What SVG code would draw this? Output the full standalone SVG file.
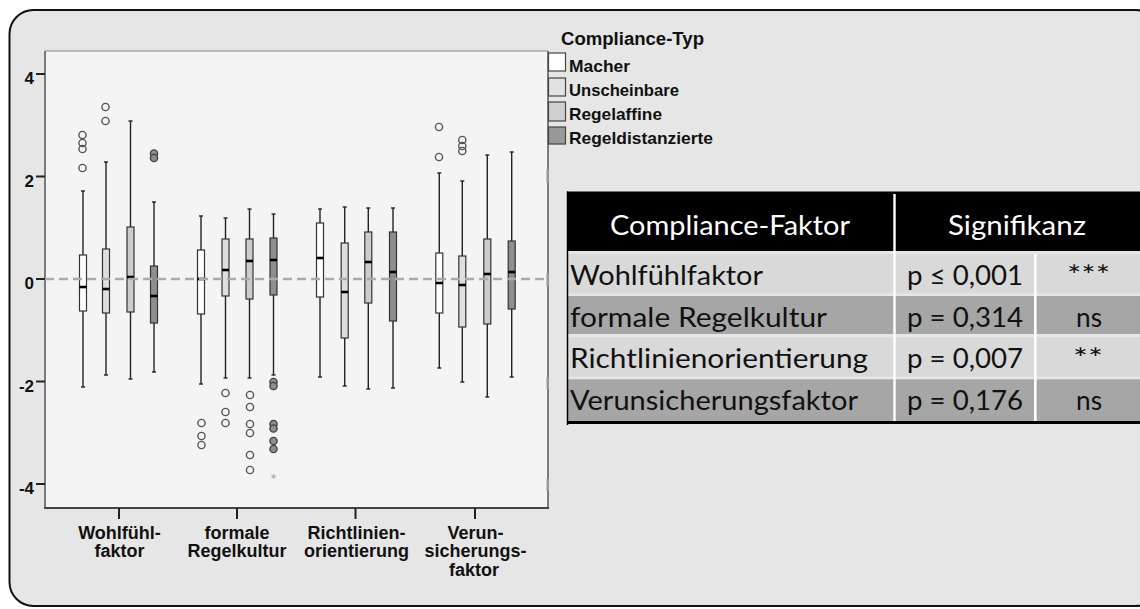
<svg xmlns="http://www.w3.org/2000/svg" width="1140" height="609" viewBox="0 0 1140 609">
  <style>
    .frame { fill: #e6e6e6; stroke: #111; stroke-width: 2; }
    .plotbg { fill: #f4f4f4; }
    .axis { stroke: #555; stroke-width: 1.5; fill: none; }
    .tick { stroke: #222; stroke-width: 2; }
    .ylab { font-family: "Liberation Sans", Arial, sans-serif; font-weight: bold; font-size: 17px; fill: #111; text-anchor: end; }
    .xlab { font-family: "Liberation Sans", Arial, sans-serif; font-weight: bold; font-size: 18px; fill: #111; text-anchor: middle; }
    .legtitle { font-family: "Liberation Sans", Arial, sans-serif; font-weight: bold; font-size: 17.5px; fill: #111; }
    .leglab { font-family: "Liberation Sans", Arial, sans-serif; font-weight: bold; font-size: 17px; fill: #111; }
    .swatch { stroke: #444; stroke-width: 1.2; }
    .whisker { stroke: #222; stroke-width: 1.4; }
    .box { stroke: #333; stroke-width: 1.2; }
    .median { stroke: #000; stroke-width: 2.6; }
    .ref { stroke: #aaa; stroke-width: 2.5; stroke-dasharray: 9 5; fill: none; }
    .out { fill: none; stroke: #555; stroke-width: 1.4; }
    .outd { fill: #8e8e8e; stroke: #444; stroke-width: 1.4; }
    .wA { fill: #ffffff; }
    .wB { fill: #dedede; }
    .wC { fill: #cccccc; }
    .wD { fill: #8e8e8e; }
    .th { font-family: Lato, "Noto Sans", "DejaVu Sans", sans-serif; font-size: 27px; fill: #fff; }
    .td { font-family: Lato, "Noto Sans", "DejaVu Sans", sans-serif; font-size: 27px; fill: #111; }
    .rowL { fill: #d9d9d9; }
    .rowD { fill: #a6a6a6; }
  </style>

  <!-- rounded panel -->
  <rect id="frame" class="frame" x="9.5" y="10" width="1150" height="596" rx="24" ry="24"/>

  <!-- plotting area -->
  <g id="plot-area">
    <rect class="plotbg" x="45" y="51" width="503" height="457"/>
    <line x1="45" y1="51" x2="548" y2="51" stroke="#888" stroke-width="1.2"/>
    <line class="axis" x1="45" y1="51" x2="45" y2="508"/>
    <line class="axis" x1="548" y1="51" x2="548" y2="508"/>
    <line x1="44" y1="508" x2="549" y2="508" stroke="#444" stroke-width="2"/>
    <!-- faint right-hand ticks -->
    <g fill="#999">
      <rect x="546.5" y="169" width="2.5" height="14"/>
      <rect x="546.5" y="273" width="2.5" height="13"/>
      <rect x="546.5" y="377" width="2.5" height="12"/>
      <rect x="546.5" y="479" width="2.5" height="12"/>
    </g>
  </g>

  <!-- y axis -->
  <g id="y-axis">
    <line class="tick" x1="36" y1="74" x2="45" y2="74"/>
    <line class="tick" x1="36" y1="176.5" x2="45" y2="176.5"/>
    <line class="tick" x1="36" y1="279" x2="45" y2="279"/>
    <line class="tick" x1="36" y1="381.5" x2="45" y2="381.5"/>
    <line class="tick" x1="36" y1="484" x2="45" y2="484"/>
    <text class="ylab" x="34" y="84">4</text>
    <text class="ylab" x="34" y="186.5">2</text>
    <text class="ylab" x="34" y="289">0</text>
    <text class="ylab" x="34" y="391.5">-2</text>
    <text class="ylab" x="34" y="494">-4</text>
  </g>

  <!-- x axis -->
  <g id="x-axis">
    <line class="tick" x1="119" y1="508" x2="119" y2="519"/>
    <line class="tick" x1="237" y1="508" x2="237" y2="519"/>
    <line class="tick" x1="355.5" y1="508" x2="355.5" y2="519"/>
    <line class="tick" x1="475" y1="508" x2="475" y2="519"/>
    <text class="xlab" x="119.5" y="539">Wohlfühl-</text>
    <text class="xlab" x="119.5" y="557">faktor</text>
    <text class="xlab" x="237" y="539">formale</text>
    <text class="xlab" x="237" y="557">Regelkultur</text>
    <text class="xlab" x="356.5" y="539">Richtlinien-</text>
    <text class="xlab" x="356.5" y="557">orientierung</text>
    <text class="xlab" x="475.5" y="539">Verun-</text>
    <text class="xlab" x="475.5" y="557">sicherungs-</text>
    <text class="xlab" x="474" y="576">faktor</text>
  </g>

  <!-- Wohlfühlfaktor -->
  <g id="group-wohlfuehlfaktor">
    <line class="whisker" x1="83" y1="191" x2="83" y2="387"/><line class="whisker" x1="81" y1="191" x2="85" y2="191"/><line class="whisker" x1="81" y1="387" x2="85" y2="387"/>
    <rect class="box wA" x="79.5" y="255" width="7" height="56"/><line class="median" x1="79.5" y1="287" x2="86.5" y2="287"/>
    <line class="whisker" x1="106" y1="162" x2="106" y2="375"/><line class="whisker" x1="104" y1="162" x2="108" y2="162"/><line class="whisker" x1="104" y1="375" x2="108" y2="375"/>
    <rect class="box wB" x="102.5" y="249" width="7" height="64"/><line class="median" x1="102.5" y1="289" x2="109.5" y2="289"/>
    <line class="whisker" x1="130.5" y1="121" x2="130.5" y2="379"/><line class="whisker" x1="128.5" y1="121" x2="132.5" y2="121"/><line class="whisker" x1="128.5" y1="379" x2="132.5" y2="379"/>
    <rect class="box wC" x="127" y="227" width="7" height="85"/><line class="median" x1="127" y1="277" x2="134" y2="277"/>
    <line class="whisker" x1="154" y1="202" x2="154" y2="372"/><line class="whisker" x1="152" y1="202" x2="156" y2="202"/><line class="whisker" x1="152" y1="372" x2="156" y2="372"/>
    <rect class="box wD" x="150.5" y="266" width="7" height="57"/><line class="median" x1="150.5" y1="296" x2="157.5" y2="296"/>
    <circle class="out" cx="82.5" cy="135" r="3.6"/><circle class="out" cx="82.5" cy="143" r="3.6"/><circle class="out" cx="82.5" cy="149" r="3.6"/><circle class="out" cx="82.5" cy="168" r="3.6"/>
    <circle class="out" cx="105.5" cy="107" r="3.6"/><circle class="out" cx="105.5" cy="121" r="3.6"/>
    <circle class="outd" cx="154" cy="153.5" r="3.6"/><circle class="outd" cx="154" cy="158" r="3.6"/>
  </g>

  <!-- formale Regelkultur -->
  <g id="group-regelkultur">
    <line class="whisker" x1="201" y1="216" x2="201" y2="384" stroke-width="2"/><line class="whisker" x1="199" y1="216" x2="203" y2="216"/><line class="whisker" x1="199" y1="384" x2="203" y2="384"/>
    <rect class="box wA" x="197.5" y="250" width="7" height="64"/><line class="median" x1="197.5" y1="279" x2="204.5" y2="279"/>
    <line class="whisker" x1="225.5" y1="218" x2="225.5" y2="378"/><line class="whisker" x1="223.5" y1="218" x2="227.5" y2="218"/><line class="whisker" x1="223.5" y1="378" x2="227.5" y2="378"/>
    <rect class="box wB" x="222" y="239" width="7" height="57"/><line class="median" x1="222" y1="270" x2="229" y2="270"/>
    <line class="whisker" x1="249.5" y1="209" x2="249.5" y2="378"/><line class="whisker" x1="247.5" y1="209" x2="251.5" y2="209"/><line class="whisker" x1="247.5" y1="378" x2="251.5" y2="378"/>
    <rect class="box wC" x="246" y="239" width="7" height="60"/><line class="median" x1="246" y1="261" x2="253" y2="261"/>
    <line class="whisker" x1="273.5" y1="214" x2="273.5" y2="375"/><line class="whisker" x1="271.5" y1="214" x2="275.5" y2="214"/><line class="whisker" x1="271.5" y1="375" x2="275.5" y2="375"/>
    <rect class="box wD" x="270" y="238" width="7" height="57"/><line class="median" x1="270" y1="260" x2="277" y2="260"/>
    <circle class="out" cx="201.5" cy="423" r="3.6"/><circle class="out" cx="201.5" cy="436" r="3.6"/><circle class="out" cx="201.5" cy="445" r="3.6"/>
    <circle class="out" cx="225.5" cy="393" r="3.6"/><circle class="out" cx="225.5" cy="412" r="3.6"/><circle class="out" cx="225.5" cy="423" r="3.6"/>
    <circle class="out" cx="250" cy="395" r="3.6"/><circle class="out" cx="250" cy="407" r="3.6"/><circle class="out" cx="250" cy="424" r="3.6"/><circle class="out" cx="250" cy="433" r="3.6"/><circle class="out" cx="250" cy="455" r="3.6"/><circle class="out" cx="250" cy="470" r="3.6"/>
    <circle class="outd" cx="273.5" cy="382" r="3.6"/><circle class="outd" cx="273.5" cy="386" r="3.6"/><circle class="outd" cx="273.5" cy="424" r="3.6"/><circle class="outd" cx="273.5" cy="428.5" r="3.6"/><circle class="outd" cx="273.5" cy="441" r="3.6"/><circle class="outd" cx="273.5" cy="449" r="3.6"/>
    <text x="273.5" y="482" font-family="'DejaVu Sans', sans-serif" font-size="11" fill="#999" text-anchor="middle">*</text>
  </g>

  <!-- Richtlinienorientierung -->
  <g id="group-richtlinien">
    <line class="whisker" x1="320" y1="209" x2="320" y2="377"/><line class="whisker" x1="318" y1="209" x2="322" y2="209"/><line class="whisker" x1="318" y1="377" x2="322" y2="377"/>
    <rect class="box wA" x="316.5" y="223" width="7" height="74"/><line class="median" x1="316.5" y1="258" x2="323.5" y2="258"/>
    <line class="whisker" x1="344.7" y1="207" x2="344.7" y2="386" stroke-width="1.8"/><line class="whisker" x1="342.7" y1="207" x2="346.7" y2="207"/><line class="whisker" x1="342.7" y1="386" x2="346.7" y2="386"/>
    <rect class="box wB" x="341.2" y="243" width="7" height="95"/><line class="median" x1="341.2" y1="292" x2="348.2" y2="292"/>
    <line class="whisker" x1="368.3" y1="208" x2="368.3" y2="389" stroke-width="1.8"/><line class="whisker" x1="366.3" y1="208" x2="370.3" y2="208"/><line class="whisker" x1="366.3" y1="389" x2="370.3" y2="389"/>
    <rect class="box wC" x="364.8" y="232" width="7" height="71"/><line class="median" x1="364.8" y1="262" x2="371.8" y2="262"/>
    <line class="whisker" x1="393" y1="208" x2="393" y2="388" stroke-width="2.2"/><line class="whisker" x1="391" y1="208" x2="395" y2="208"/><line class="whisker" x1="391" y1="388" x2="395" y2="388"/>
    <rect class="box wD" x="389.5" y="232" width="7" height="89"/><line class="median" x1="389.5" y1="272" x2="396.5" y2="272"/>
  </g>

  <!-- Verunsicherungsfaktor -->
  <g id="group-verunsicherung">
    <line class="whisker" x1="439.3" y1="173" x2="439.3" y2="368"/><line class="whisker" x1="437.3" y1="173" x2="441.3" y2="173"/><line class="whisker" x1="437.3" y1="368" x2="441.3" y2="368"/>
    <rect class="box wA" x="435.8" y="253" width="7" height="60"/><line class="median" x1="435.8" y1="283" x2="442.8" y2="283"/>
    <line class="whisker" x1="462.3" y1="181" x2="462.3" y2="382"/><line class="whisker" x1="460.3" y1="181" x2="464.3" y2="181"/><line class="whisker" x1="460.3" y1="382" x2="464.3" y2="382"/>
    <rect class="box wB" x="458.8" y="256" width="7" height="71"/><line class="median" x1="458.8" y1="285" x2="465.8" y2="285"/>
    <line class="whisker" x1="487.3" y1="155" x2="487.3" y2="397"/><line class="whisker" x1="485.3" y1="155" x2="489.3" y2="155"/><line class="whisker" x1="485.3" y1="397" x2="489.3" y2="397"/>
    <rect class="box wC" x="483.8" y="239" width="7" height="85"/><line class="median" x1="483.8" y1="274" x2="490.8" y2="274"/>
    <line class="whisker" x1="511.7" y1="152" x2="511.7" y2="377" stroke-width="2.4"/><line class="whisker" x1="509.7" y1="152" x2="513.7" y2="152"/><line class="whisker" x1="509.7" y1="377" x2="513.7" y2="377"/>
    <rect class="box wD" x="508.2" y="241" width="7" height="68"/><line class="median" x1="508.2" y1="272" x2="515.2" y2="272"/>
    <circle class="out" cx="439" cy="127" r="3.6"/><circle class="out" cx="439" cy="157" r="3.6"/>
    <circle class="out" cx="462.3" cy="140" r="3.6"/><circle class="out" cx="462.3" cy="146" r="3.6"/><circle class="out" cx="462.3" cy="151" r="3.6"/>
  </g>

  <!-- zero reference line -->
  <line id="zero-line" class="ref" x1="45" y1="279" x2="548" y2="279"/>

  <!-- legend -->
  <g id="legend">
    <text class="legtitle" x="561" y="45" textLength="143" lengthAdjust="spacingAndGlyphs">Compliance-Typ</text>
    <rect class="swatch" x="548.5" y="53" width="17" height="18" fill="#ffffff"/>
    <rect class="swatch" x="548.5" y="78" width="17" height="18" fill="#e2e2e2"/>
    <rect class="swatch" x="548.5" y="102" width="17" height="19" fill="#cfcfcf"/>
    <rect class="swatch" x="548.5" y="127" width="17" height="17" fill="#999999"/>
    <text class="leglab" x="569" y="72" textLength="61" lengthAdjust="spacingAndGlyphs">Macher</text>
    <text class="leglab" x="569" y="96" textLength="110" lengthAdjust="spacingAndGlyphs">Unscheinbare</text>
    <text class="leglab" x="569" y="120" textLength="93" lengthAdjust="spacingAndGlyphs">Regelaffine</text>
    <text class="leglab" x="569" y="144" textLength="144" lengthAdjust="spacingAndGlyphs">Regeldistanzierte</text>
  </g>

  <!-- significance table -->
  <g id="table">
    <rect x="567" y="191.5" width="580" height="59.5" fill="#000"/>
    <rect class="rowL" x="567" y="254" width="580" height="39.5"/>
    <rect class="rowD" x="567" y="296" width="580" height="38"/>
    <rect class="rowL" x="567" y="337.3" width="580" height="39.4"/>
    <rect class="rowD" x="567" y="379.3" width="580" height="42"/>
    <rect x="893.3" y="194" width="2.4" height="227" fill="#fff"/>
    <rect x="1034" y="254" width="2.6" height="167" fill="#fff"/>
    <rect x="567" y="421" width="580" height="3" fill="#000"/>
    <line x1="567.5" y1="191.5" x2="567.5" y2="425" stroke="#000" stroke-width="1.5"/>

    <text class="th" x="610" y="235" textLength="240" lengthAdjust="spacingAndGlyphs">Compliance-Faktor</text>
    <text class="th" x="948" y="235" textLength="138" lengthAdjust="spacingAndGlyphs">Signifikanz</text>

    <text class="td" x="570" y="285" textLength="193" lengthAdjust="spacingAndGlyphs">Wohlfühlfaktor</text>
    <text class="td" x="570" y="326.5" textLength="257" lengthAdjust="spacingAndGlyphs">formale Regelkultur</text>
    <text class="td" x="570" y="368" textLength="298" lengthAdjust="spacingAndGlyphs">Richtlinienorientierung</text>
    <text class="td" x="570" y="410" textLength="288" lengthAdjust="spacingAndGlyphs">Verunsicherungsfaktor</text>

    <text class="td" x="907" y="285" textLength="116" lengthAdjust="spacingAndGlyphs">p ≤ 0,001</text>
    <text class="td" x="907" y="326.5" textLength="116" lengthAdjust="spacingAndGlyphs">p = 0,314</text>
    <text class="td" x="907" y="368" textLength="116" lengthAdjust="spacingAndGlyphs">p = 0,007</text>
    <text class="td" x="907" y="410" textLength="116" lengthAdjust="spacingAndGlyphs">p = 0,176</text>

    <text class="td" x="1067" y="285" textLength="43" lengthAdjust="spacingAndGlyphs">***</text>
    <text class="td" x="1076" y="326.5" textLength="26" lengthAdjust="spacingAndGlyphs">ns</text>
    <text class="td" x="1073" y="368" textLength="30" lengthAdjust="spacingAndGlyphs">**</text>
    <text class="td" x="1076" y="410" textLength="26" lengthAdjust="spacingAndGlyphs">ns</text>
  </g>
</svg>
